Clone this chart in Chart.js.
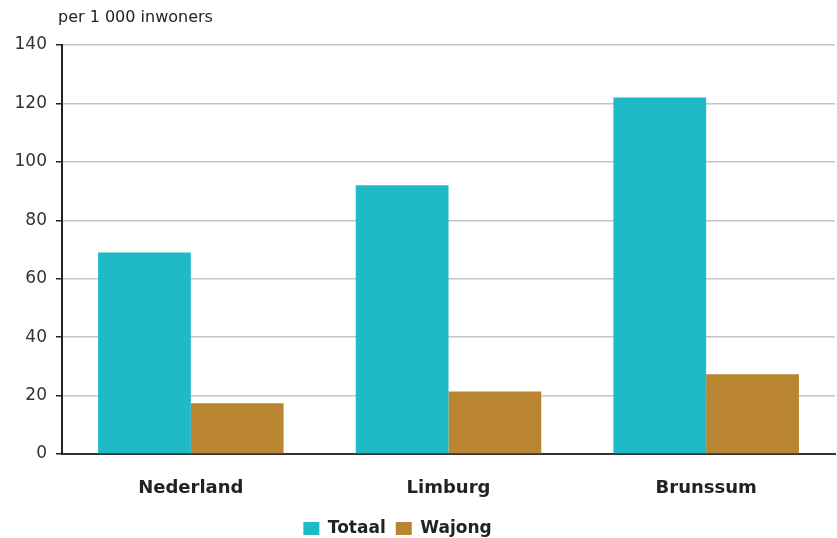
<!DOCTYPE html>
<html>
<head>
<meta charset="utf-8">
<script src="https://cdn.jsdelivr.net/npm/chart.js@4/dist/chart.umd.min.js"></script>
<style>
  html, body { margin: 0; padding: 0; background: #fff; }
  #wrap { width: 837px; height: 538px; position: relative; }
</style>
</head>
<body>
<div id="wrap"><canvas id="chart"></canvas></div>
<script>
  const categories = ["Nederland", "Limburg", "Brunssum"];
  const totaal = [69, 92, 122];
  const wajong = [17.4, 21.4, 27.3];
  const yTicks = [0, 20, 40, 60, 80, 100, 120, 140];
  const unitLabel = "per 1 000 inwoners";

  // draws the unit text above the y axis
  const unitPlugin = {
    id: "unitLabel",
    afterDraw(chart) {
      const ctx = chart.ctx;
      ctx.save();
      ctx.font = "16px 'DejaVu Sans'";
      ctx.fillStyle = "#222";
      ctx.textBaseline = "middle";
      ctx.textAlign = "left";
      ctx.fillText(unitLabel, chart.chartArea.left - 4, 18);
      ctx.restore();
    },
  };

  // nudge legend left and down a bit, like the original
  const legendShift = {
    id: "legendShift",
    afterLayout(chart) {
      const lg = chart.legend;
      if (!lg) return;
      lg.right -= 40;
      lg.top += 9;
      lg.bottom += 9;
    },
  };

  new Chart(document.getElementById("chart"), {
    type: "bar",
    data: {
      labels: categories,
      datasets: [
        {
          label: "Totaal",
          data: totaal,
          backgroundColor: "#1EBAC5",
          categoryPercentage: 0.72,
          barPercentage: 1,
        },
        {
          label: "Wajong",
          data: wajong,
          backgroundColor: "#B98530",
          categoryPercentage: 0.72,
          barPercentage: 1,
        },
      ],
    },
    options: {
      responsive: true,
      maintainAspectRatio: false,
      animation: false,
      layout: { padding: { top: 45, right: 2, left: 0, bottom: 0 } },
      plugins: {
        legend: {
          position: "bottom",
          labels: {
            boxWidth: 16,
            boxHeight: 13,
            padding: 10,
            color: "#222",
            font: { family: "'DejaVu Sans'", size: 17, weight: "bold" },
          },
        },
        tooltip: { enabled: false },
      },
      scales: {
        x: {
          afterFit(axis) {
            axis.height = 47;
          },
          grid: { display: false, drawTicks: false },
          border: { color: "#333", width: 2 },
          ticks: {
            padding: 24,
            color: "#222",
            font: { family: "'DejaVu Sans'", size: 18, weight: "bold" },
          },
        },
        y: {
          min: 0,
          max: 140,
          afterBuildTicks(axis) {
            axis.ticks = yTicks.map((v) => ({ value: v }));
          },
          afterFit(axis) {
            axis.width = 62;
          },
          grid: {
            color: "#c4c4c4",
            lineWidth: 1.5,
            tickLength: 6,
            tickColor: "#222",
          },
          border: { color: "#222", width: 2 },
          ticks: {
            padding: 9,
            color: "#333",
            font: { family: "'DejaVu Sans'", size: 17 },
          },
        },
      },
    },
    plugins: [unitPlugin, legendShift],
  });
</script>
</body>
</html>
